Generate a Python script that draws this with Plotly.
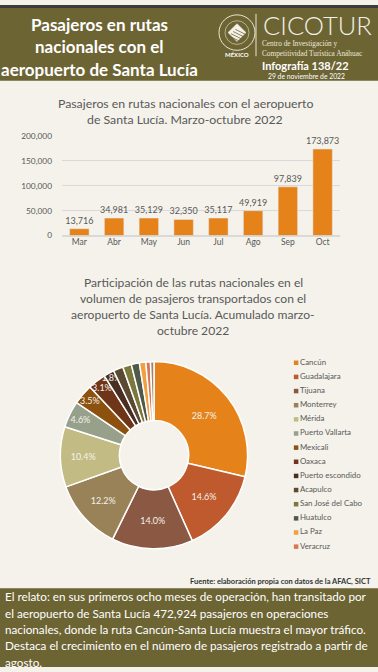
import plotly.graph_objects as go

# ---------------- data ----------------
months = ["Mar", "Abr", "May", "Jun", "Jul", "Ago", "Sep", "Oct"]
passengers = [13716, 34981, 35129, 32350, 35117, 49919, 97839, 173873]
y_ticks = [0, 50000, 100000, 150000, 200000]

routes = ["Cancún", "Guadalajara", "Tijuana", "Monterrey", "Mérida", "Puerto Vallarta",
          "Mexicali", "Oaxaca", "Puerto escondido", "Acapulco", "San José del Cabo",
          "Huatulco", "La Paz", "Veracruz", "Otros"]
shares = [28.7, 14.6, 14.0, 12.2, 10.4, 4.6, 3.5, 3.1, 1.8, 1.7, 1.5, 1.4, 1.1, 0.8, 0.6]
route_colors = ["#E6821A", "#BE5A2D", "#8A5843", "#9A8258", "#C2BC84", "#96A08A",
                "#8C500F", "#6E3519", "#4A2E22", "#5A4A32", "#7C783C", "#505A4A",
                "#F0A040", "#D87850", "#A08070"]
legend_routes = routes[:14]

header_title = ["Pasajeros en rutas", "nacionales con el", "aeropuerto de Santa Lucía"]
bar_title = ["Pasajeros en rutas nacionales con el aeropuerto",
             "de Santa Lucía. Marzo-octubre 2022"]
pie_title = ["Participación de las rutas nacionales en el",
             "volumen de pasajeros transportados con el",
             "aeropuerto de Santa Lucía. Acumulado marzo-",
             "octubre 2022"]
story = ["El relato: en sus primeros ocho meses de operación, han transitado por",
         "el aeropuerto de Santa Lucía 472,924 pasajeros en operaciones",
         "nacionales, donde la ruta Cancún-Santa Lucía muestra el mayor tráfico.",
         "Destaca el crecimiento en el número de pasajeros registrado a partir de",
         "agosto."]

# ---------------- style ----------------
W, H = 378, 672
BG = "#F4F2EA"
OLIVE = "#6D6434"
GRAY = "#595959"
FONT = "Lato"


def py(px):
    return 1 - px / H


def pxx(px):
    return px / W


fig = go.Figure()

# bar chart
fig.add_trace(go.Bar(
    x=months, y=passengers, marker_color="#E6821A", width=0.56,
    texttemplate="%{y:,}", textposition="outside", cliponaxis=False,
    textfont=dict(size=8.7, color=GRAY, family=FONT),
    xaxis="x", yaxis="y", showlegend=False, hoverinfo="skip"))

# donut
pie_text = [f"{v:.1f}%" if v >= 1.8 else "" for v in shares]
fig.add_trace(go.Pie(
    labels=routes, values=shares, sort=False, direction="clockwise", rotation=0,
    hole=0.37, text=pie_text, textinfo="text", textposition="inside",
    insidetextorientation="horizontal",
    textfont=dict(size=9, color="#F4F2EA", family=FONT),
    marker=dict(colors=route_colors, line=dict(color="white", width=1.5)),
    domain=dict(x=[pxx(59), pxx(249)], y=[py(552), py(362)]),
    showlegend=False, hoverinfo="skip"))

# legend built as a scatter on a hidden axis
fig.add_trace(go.Scatter(
    x=[0] * len(legend_routes), y=list(range(len(legend_routes))),
    mode="markers+text", text=legend_routes, textposition="middle right",
    marker=dict(symbol="square", size=4.5, color=route_colors[:14]),
    textfont=dict(size=7.9, color=GRAY, family=FONT),
    xaxis="x2", yaxis="y2", showlegend=False, hoverinfo="skip", cliponaxis=False))

shapes = [
    dict(type="rect", xref="paper", yref="paper", x0=0, x1=1, y0=py(77), y1=1,
         fillcolor=OLIVE, line_width=0, layer="below"),
    dict(type="rect", xref="paper", yref="paper", x0=0, x1=1, y0=py(3), y1=1,
         fillcolor="#3C3C3C", line_width=0, layer="below"),
    dict(type="rect", xref="paper", yref="paper", x0=0, x1=1, y0=0, y1=py(592),
         fillcolor=OLIVE, line_width=0, layer="below"),
    # seal
    dict(type="circle", xref="paper", yref="paper", x0=pxx(219), x1=pxx(255),
         y0=py(46), y1=py(10), line=dict(color="#E8E4D0", width=1)),
    dict(type="circle", xref="paper", yref="paper", x0=pxx(225), x1=pxx(249),
         y0=py(40), y1=py(16), line=dict(color="#E8E4D0", width=0.6)),
    dict(type="path", xref="paper", yref="paper",
         path=f"M {pxx(237)} {py(19)} L {pxx(246)} {py(28)} L {pxx(237)} {py(37)} L {pxx(228)} {py(28)} Z",
         fillcolor="#F4F2EA", line=dict(color="#F4F2EA", width=0.5)),
    dict(type="line", xref="paper", yref="paper", x0=pxx(256), x1=pxx(256),
         y0=py(52), y1=py(9), line=dict(color="#E8E4D0", width=1)),
]
for k in range(4):
    o = 2.2 * k - 3.3
    shapes.append(dict(type="line", xref="paper", yref="paper",
                       x0=pxx(232 + o), x1=pxx(237 + o + 5), y0=py(23 - o + 5), y1=py(33 - o - 0),
                       line=dict(color=OLIVE, width=0.8)))

ann = []
for i, t in enumerate(header_title):
    ann.append(dict(text=f"<b>{t}</b>", x=pxx(99), y=py(20 + 22.5 * i), xref="paper", yref="paper",
                    showarrow=False, font=dict(size=17, color="white", family=FONT),
                    xanchor="center", yanchor="middle"))
ann += [
    dict(text="CICOTUR", x=pxx(261), y=py(20), xanchor="left", yanchor="middle",
         font=dict(size=25.5, color="#F2F0E4", family="Lato Light, Lato"), showarrow=False),
    dict(text="Centro de Investigación y", x=pxx(260), y=py(39), xanchor="left", yanchor="middle",
         font=dict(size=7.3, color="#ECE8D8", family="Liberation Serif"), showarrow=False),
    dict(text="Competitividad Turística Anáhuac", x=pxx(260), y=py(49), xanchor="left", yanchor="middle",
         font=dict(size=7.3, color="#ECE8D8", family="Liberation Serif"), showarrow=False),
    dict(text="<b>Infografía 138/22</b>", x=pxx(305), y=py(61), xanchor="center", yanchor="middle",
         font=dict(size=11, color="white", family=FONT), showarrow=False),
    dict(text="29 de noviembre de 2022", x=pxx(306), y=py(72), xanchor="center", yanchor="middle",
         font=dict(size=6.8, color="white", family=FONT), showarrow=False),
    dict(text="<b>MÉXICO</b>", x=pxx(237), y=py(50), xanchor="center", yanchor="middle",
         font=dict(size=6, color="white", family=FONT), showarrow=False),
    dict(text="<b>Fuente: elaboración propia con datos de la AFAC, SICT</b>", x=pxx(373), y=py(585),
         xanchor="right", yanchor="middle", font=dict(size=7.5, color="#333333", family=FONT),
         showarrow=False),
]
for i, t in enumerate(bar_title):
    ann.append(dict(text=t, x=pxx(185), y=py(100 + 16.5 * i), xref="paper", yref="paper",
                    showarrow=False, font=dict(size=12.3, color=GRAY, family=FONT),
                    xanchor="center", yanchor="middle"))
for i, t in enumerate(pie_title):
    ann.append(dict(text=t, x=pxx(193), y=py(282 + 16.2 * i), xref="paper", yref="paper",
                    showarrow=False, font=dict(size=12.1, color=GRAY, family=FONT),
                    xanchor="center", yanchor="middle"))
for i, t in enumerate(story):
    ann.append(dict(text=t, x=pxx(3), y=py(600 + 16.7 * i), xref="paper", yref="paper",
                    showarrow=False, font=dict(size=11.7, color="white", family=FONT),
                    xanchor="left", yanchor="middle"))
for a in ann:
    a.setdefault("xref", "paper")
    a.setdefault("yref", "paper")

fig.update_layout(
    width=W, height=H, margin=dict(l=0, r=0, t=0, b=0),
    paper_bgcolor=BG, plot_bgcolor=BG,
    font=dict(family=FONT, color=GRAY),
    uniformtext=dict(minsize=9, mode="show"),
    xaxis=dict(domain=[pxx(62), pxx(340)], showgrid=False, showline=False, ticks="",
               tickfont=dict(size=8.5, color=GRAY), fixedrange=True),
    yaxis=dict(domain=[py(234), py(133)], range=[0, 200000], tickvals=y_ticks,
               tickformat=",", showgrid=True, gridcolor="#D9D9D9", gridwidth=1,
               zeroline=True, zerolinecolor="#D9D9D9", ticks="", ticklabelstandoff=9,
               tickfont=dict(size=8.3, color=GRAY)),
    xaxis2=dict(domain=[pxx(292), 1], range=[-0.05, 1], visible=False),
    yaxis2=dict(domain=[py(557), py(356)], range=[13.5, -0.5], visible=False),
    annotations=ann, shapes=shapes, bargap=0.44,
)

fig.write_html("out.html", config=dict(displayModeBar=False),
               post_script="document.body.style.margin='0';document.body.style.overflow='hidden';")
